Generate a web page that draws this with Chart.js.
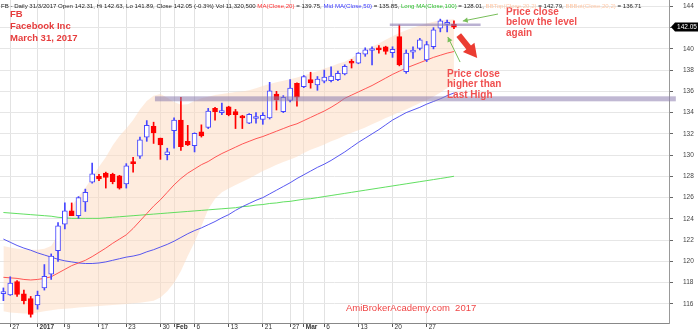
<!DOCTYPE html>
<html>
<head>
<meta charset="utf-8">
<script src="https://cdn.jsdelivr.net/npm/chart.js@4.4.1/dist/chart.umd.min.js"></script>
<style>
  html, body { margin: 0; padding: 0; background: #fff; }
  #wrap { width: 700px; height: 332px; position: relative; }
</style>
</head>
<body>
<div id="wrap"><canvas id="fbChart"></canvas></div>
<script>
// FB daily bars, 23 Dec 2016 .. 31 Mar 2017
const dates = [
  "2016-12-23","2016-12-27","2016-12-28","2016-12-29","2016-12-30",
  "2017-01-03","2017-01-04","2017-01-05","2017-01-06","2017-01-09","2017-01-10","2017-01-11","2017-01-12","2017-01-13",
  "2017-01-17","2017-01-18","2017-01-19","2017-01-20","2017-01-23","2017-01-24","2017-01-25","2017-01-26","2017-01-27",
  "2017-01-30","2017-01-31","2017-02-01","2017-02-02","2017-02-03","2017-02-06","2017-02-07","2017-02-08","2017-02-09",
  "2017-02-10","2017-02-13","2017-02-14","2017-02-15","2017-02-16","2017-02-17","2017-02-21","2017-02-22","2017-02-23",
  "2017-02-24","2017-02-27","2017-02-28","2017-03-01","2017-03-02","2017-03-03","2017-03-06","2017-03-07","2017-03-08",
  "2017-03-09","2017-03-10","2017-03-13","2017-03-14","2017-03-15","2017-03-16","2017-03-17","2017-03-20","2017-03-21",
  "2017-03-22","2017-03-23","2017-03-24","2017-03-27","2017-03-28","2017-03-29","2017-03-30","2017-03-31"
];

const opens = [
  116.95,116.85,118.1,116.95,116.5,
  115.9,117.5,118.8,121.0,123.5,124.75,124.3,125.6,127.45,
  128.0,128.3,128.2,128.05,127.3,129.4,129.9,131.7,132.7,
  131.6,130.05,132.3,133.3,131.3,130.9,132.2,132.6,134.4,
  134.0,134.55,134.1,133.7,133.0,133.45,133.35,133.5,135.75,
  134.1,135.15,136.75,136.45,137.1,136.6,136.95,137.0,137.1,
  137.65,138.8,138.65,139.5,139.85,140.1,140.2,139.65,141.15,
  137.85,139.7,140.05,138.95,140.2,141.95,142.3,142.31
];
const highs = [
  117.5,118.55,118.2,117.3,116.7,
  117.2,119.7,120.7,123.65,125.5,125.5,126.1,126.8,129.25,
  128.2,128.4,128.3,128.1,129.2,129.8,131.7,133.25,133.1,
  131.6,130.65,133.5,135.45,132.8,132.1,132.85,134.4,134.5,
  134.9,134.6,134.3,133.75,133.9,134.0,134.0,136.85,136.0,
  135.6,137.1,136.8,137.5,137.8,137.4,138.0,138.3,137.9,
  138.5,139.0,139.65,140.1,140.2,140.3,140.25,140.2,142.25,
  139.9,140.2,141.0,140.7,142.0,142.8,142.7,142.63
];
const lows = [
  116.3,116.8,116.7,116.0,114.75,
  115.5,117.3,118.3,120.0,123.05,124.3,124.05,124.7,127.35,
  127.6,126.9,127.3,126.8,126.9,128.4,129.7,131.3,131.1,
  129.6,129.55,130.65,130.45,130.9,130.3,131.7,132.5,133.3,
  133.8,133.7,132.5,132.5,132.95,133.0,132.9,133.4,134.25,
  134.0,135.0,134.6,136.35,136.3,136.1,136.8,136.9,137.0,
  137.55,138.2,138.6,139.3,138.5,139.6,139.5,139.2,138.4,
  137.7,139.1,139.9,138.8,140.0,141.6,141.6,141.89
];
const closes = [
  117.15,117.95,116.9,116.3,115.0,
  116.8,118.6,120.5,123.35,124.75,124.3,126.0,126.5,128.25,
  127.75,127.9,127.5,126.9,129.0,129.2,131.45,132.8,132.1,
  130.95,130.3,133.3,130.8,130.95,132.05,131.8,134.15,134.1,
  134.15,133.8,133.8,133.5,133.85,133.55,133.75,136.05,135.2,
  135.45,136.3,135.45,137.4,136.8,137.15,137.35,137.45,137.7,
  138.35,138.65,139.6,139.9,139.95,139.9,139.75,139.95,138.5,
  139.6,139.8,140.85,140.4,141.8,142.65,142.4,142.05
];

const ma20 = [
  118.5,118.45,118.4,118.3,118.25,
  118.3,118.4,118.55,118.9,119.25,119.6,119.85,120.1,120.45,
  120.85,121.25,121.7,122.1,122.5,123.1,123.8,124.5,125.2,
  125.8,126.5,127.2,127.8,128.3,128.7,129.1,129.4,129.8,
  130.15,130.45,130.75,131.05,131.3,131.55,131.75,132.0,132.25,
  132.5,132.75,132.95,133.25,133.55,133.85,134.15,134.5,134.9,
  135.35,135.65,135.95,136.25,136.55,136.9,137.25,137.6,137.9,
  138.2,138.45,138.7,138.95,139.2,139.4,139.6,139.75
];
const ma50 = [
  122.1,121.8,121.5,121.25,121.05,
  120.8,120.6,120.4,120.2,120.05,119.95,119.85,119.8,119.8,
  119.85,119.95,120.1,120.25,120.4,120.5,120.65,120.9,121.1,
  121.35,121.6,121.9,122.25,122.6,122.9,123.15,123.45,123.75,
  124.1,124.4,124.8,125.15,125.45,125.75,126.0,126.35,126.7,
  127.05,127.4,127.8,128.15,128.5,128.85,129.15,129.5,129.9,
  130.3,130.75,131.2,131.6,132.0,132.4,132.85,133.3,133.65,
  134.0,134.25,134.5,134.8,135.05,135.3,135.6,135.85
];
const ma100 = [
  124.6,124.55,124.5,124.45,124.4,
  124.35,124.3,124.25,124.15,124.1,124.05,124.05,124.05,124.05,
  124.05,124.1,124.15,124.2,124.25,124.3,124.35,124.4,124.45,
  124.5,124.55,124.6,124.65,124.7,124.75,124.8,124.85,124.9,
  124.95,125.0,125.05,125.15,125.2,125.3,125.35,125.45,125.5,
  125.6,125.65,125.75,125.85,125.9,126.0,126.1,126.2,126.3,
  126.4,126.5,126.6,126.7,126.8,126.9,127.0,127.1,127.2,
  127.3,127.4,127.5,127.6,127.7,127.8,127.9,128.01
];
const bbTop = [
  121.45,121.3,121.2,121.15,121.1,
  121.1,121.2,121.45,122.5,124.1,125.2,126.1,126.9,127.9,
  128.9,129.8,130.9,131.8,132.5,133.3,134.3,135.1,135.6,
  135.75,135.4,135.0,134.75,134.8,135.1,135.35,135.5,135.65,
  135.75,135.85,135.95,136.0,136.1,136.3,136.5,136.7,136.85,
  137.0,137.15,137.3,137.5,137.7,137.9,138.15,138.35,138.6,
  138.8,139.15,139.55,139.9,140.2,140.5,140.85,141.2,141.5,
  141.75,142.0,142.2,142.4,142.55,142.7,142.75,142.79
];
const bbBot = [
  115.3,115.2,115.15,115.1,115.1,
  115.2,115.3,115.4,115.5,115.55,115.6,115.65,115.7,115.75,
  115.8,115.85,115.9,115.95,116.0,116.05,116.1,116.2,116.3,
  116.6,117.2,118.0,119.1,120.5,121.8,123.3,124.9,125.9,
  126.5,126.85,127.2,127.5,127.8,128.15,128.5,128.8,129.1,
  129.35,129.6,129.85,130.2,130.5,130.75,131.0,131.3,131.55,
  131.85,132.1,132.35,132.6,132.9,133.2,133.5,133.75,134.05,
  134.3,134.6,134.9,135.2,135.5,135.9,136.3,136.71
];

// axis labels
const tickDates = ["2016-12-27","2017-01-03","2017-01-09","2017-01-17","2017-01-23","2017-01-30","2017-02-01",
  "2017-02-06","2017-02-13","2017-02-21","2017-02-27","2017-03-01","2017-03-06","2017-03-13","2017-03-20","2017-03-27"];
const tickTexts = ["27","2017","9","17","23","30","Feb","6","13","21","27","Mar","6","13","20","27"];
const priceTicks = [116,118,120,122,124,126,128,130,132,134,136,138,140,142,144];

// empty slots to the right of the last bar
const blankSlots = 31;
const labels = dates.concat(Array(blankSlots).fill(""));

const UP = "rgb(70,70,255)";
const DOWN = "rgb(255,0,0)";
const isUp = closes.map((c, i) => c >= opens[i]);
const FONT = "'Liberation Sans', Arial, sans-serif";

// hand drawn levels and arrows, in bar index / price units
const levelLines = [
  { price: 135.3, from: 22.2, to: 98.5, width: 5, color: "rgba(140,125,175,0.55)" },
  { price: 142.27, from: 56.6, to: 69.9, width: 2.5, color: "rgba(140,125,180,0.6)" }
];
const noteArrows = [
  { from: [72.45, 143.28], to: [67.3, 142.62], color: "rgb(120,190,90)", width: 1, head: 4 },
  { from: [66.9, 138.76], to: [65.1, 141.12], color: "rgb(120,190,90)", width: 1, head: 4 },
  { from: [66.7, 141.3], to: [69.4, 139.15], color: "rgb(235,60,50)", width: 6, head: 11 }
];

const headerParts = [
  ["FB - Daily 31/3/2017 Open 142.31, Hi 142.63, Lo 141.89, Close 142.05 (-0.3%) Vol 11,320,500 ", "#222"],
  ["MA(Close,20)", "#ff3030"], [" = 139.75, ", "#222"],
  ["Mid MA(Close,50)", "#3a3aff"], [" = 135.85, ", "#222"],
  ["Long MA(Close,100)", "#30c030"], [" = 128.01, ", "#222"],
  ["BBTop(Close,20,2)", "#ffc9a8"], [" = 142.79, ", "#222"],
  ["BBBot(Close,20,2)", "#ffc9a8"], [" = 136.71", "#222"]
];

const overlay = {
  id: "overlay",
  afterDatasetsDraw(chart) {
    const { ctx, scales: { x, y } } = chart;
    const px = i => x.getPixelForValue(0) + i * (x.getPixelForValue(1) - x.getPixelForValue(0));
    ctx.save();

    levelLines.forEach(l => {
      ctx.fillStyle = l.color;
      const yy = y.getPixelForValue(l.price);
      ctx.fillRect(px(l.from), yy - l.width / 2, px(l.to) - px(l.from), l.width);
    });

    noteArrows.forEach(a => {
      const x1 = px(a.from[0]), y1 = y.getPixelForValue(a.from[1]);
      const x2 = px(a.to[0]), y2 = y.getPixelForValue(a.to[1]);
      const ang = Math.atan2(y2 - y1, x2 - x1);
      const shaftEnd = a.width > 2 ? a.head * 0.8 : 0;
      ctx.strokeStyle = a.color;
      ctx.fillStyle = a.color;
      ctx.lineWidth = a.width;
      ctx.beginPath();
      ctx.moveTo(x1, y1);
      ctx.lineTo(x2 - Math.cos(ang) * shaftEnd, y2 - Math.sin(ang) * shaftEnd);
      ctx.stroke();
      ctx.beginPath();
      ctx.moveTo(x2, y2);
      ctx.lineTo(x2 - Math.cos(ang - 0.5) * a.head * 1.4, y2 - Math.sin(ang - 0.5) * a.head * 1.4);
      ctx.lineTo(x2 - Math.cos(ang + 0.5) * a.head * 1.4, y2 - Math.sin(ang + 0.5) * a.head * 1.4);
      ctx.closePath();
      ctx.fill();
    });

    // notes
    ctx.fillStyle = "rgb(240,80,80)";
    ctx.font = "bold 10px " + FONT;
    ctx.textBaseline = "alphabetic";
    ["Price close", "below the level", "again"].forEach((t, k) => ctx.fillText(t, 506, 15 + k * 10.3));
    ["Price close", "higher than", "Last High"].forEach((t, k) => ctx.fillText(t, 447, 77 + k * 10.3));

    // title block
    ctx.fillStyle = "rgb(230,60,60)";
    ctx.font = "bold 9.5px " + FONT;
    ["FB", "Facebook Inc", "March 31, 2017"].forEach((t, k) => ctx.fillText(t, 10, 17 + k * 12));

    // watermark
    ctx.font = "9.5px " + FONT;
    ctx.fillStyle = "rgb(240,70,70)";
    ctx.fillText("AmiBrokerAcademy.com  2017", 346, 311);

    // header
    ctx.font = "6px " + FONT;
    let total = 0;
    headerParts.forEach(p => { total += ctx.measureText(p[0]).width; });
    const size = 6 * 641 / total;
    ctx.font = size + "px " + FONT;
    let hx = 1;
    headerParts.forEach(p => {
      ctx.fillStyle = p[1];
      ctx.fillText(p[0], hx, 8);
      hx += ctx.measureText(p[0]).width;
    });

    // last close tag on the price axis
    const last = closes[closes.length - 1];
    const ty = y.getPixelForValue(last);
    const ax = y.left + 2;
    ctx.fillStyle = "#000";
    ctx.beginPath();
    ctx.moveTo(ax, ty);
    ctx.lineTo(ax + 4, ty - 4.5);
    ctx.lineTo(ax + 27, ty - 4.5);
    ctx.lineTo(ax + 27, ty + 4.5);
    ctx.lineTo(ax + 4, ty + 4.5);
    ctx.closePath();
    ctx.fill();
    ctx.fillStyle = "#fff";
    ctx.font = "6.5px " + FONT;
    ctx.textAlign = "center";
    ctx.textBaseline = "middle";
    ctx.fillText(last.toFixed(2), ax + 16, ty + 0.5);
    ctx.restore();
  }
};

const lineSet = (label, data, color, order) => ({
  type: "line", label, data, borderColor: color, borderWidth: 1,
  pointRadius: 0, tension: 0, fill: false, order
});

new Chart(document.getElementById("fbChart"), {
  type: "bar",
  data: {
    labels: labels,
    datasets: [
      {
        type: "line", label: "BBTop", data: bbTop, borderWidth: 0, borderColor: "rgba(0,0,0,0)",
        pointRadius: 0, fill: "+1", backgroundColor: "rgba(253,217,189,0.5)", order: 10
      },
      {
        type: "line", label: "BBBot", data: bbBot, borderWidth: 0, borderColor: "rgba(0,0,0,0)",
        pointRadius: 0, fill: false, order: 9
      },
      lineSet("MA20", ma20, "rgba(255,70,70,0.9)", 5),
      lineSet("MA50", ma50, "rgba(70,70,240,0.9)", 6),
      lineSet("MA100", ma100, "rgba(80,220,80,0.9)", 7),
      {
        label: "wick", data: lows.map((l, i) => [l, highs[i]]),
        backgroundColor: isUp.map(u => u ? UP : DOWN),
        barThickness: 1, grouped: false, order: 2
      },
      {
        label: "body", data: opens.map((o, i) => [o, closes[i]]),
        backgroundColor: isUp.map(u => u ? "#fff" : DOWN),
        borderColor: isUp.map(u => u ? UP : DOWN),
        borderWidth: 1, borderSkipped: false, minBarLength: 2,
        barThickness: 5, grouped: false, order: 1
      }
    ]
  },
  options: {
    responsive: true,
    maintainAspectRatio: false,
    animation: false,
    devicePixelRatio: 1,
    layout: { padding: 0 },
    plugins: { legend: { display: false }, tooltip: { enabled: false } },
    scales: {
      x: {
        offset: true,
        grid: { offset: false, color: "#e2e2e2", tickColor: "#555", tickLength: 4 },
        border: { color: "#888" },
        afterBuildTicks: s => { s.ticks = s.ticks.filter(t => tickDates.includes(labels[t.value])); },
        afterFit: s => { s.height = 9; s.paddingLeft = 0; s.paddingRight = 0; },
        ticks: {
          autoSkip: false, maxRotation: 0, align: "start", padding: -4, labelOffset: 2,
          color: "#333",
          font: c => ({ family: FONT, size: 6.5,
            weight: c.tick && ["2017", "Feb", "Mar"].includes(c.tick.label) ? "bold" : "normal" }),
          callback: v => {
            const k = tickDates.indexOf(labels[v]);
            return k < 0 ? "" : tickTexts[k];
          }
        }
      },
      y: {
        position: "right",
        min: 114.2,
        max: 144.6,
        afterBuildTicks: s => { s.ticks = priceTicks.map(v => ({ value: v })); },
        afterFit: s => { s.width = 31; s.paddingTop = 0; s.paddingBottom = 0; },
        grid: { color: "#e6e6e6", tickColor: "#666", tickLength: 4 },
        border: { color: "#999" },
        ticks: { padding: 10, color: "#444", font: { family: FONT, size: 6.5 } }
      }
    }
  },
  plugins: [overlay]
});
</script>
</body>
</html>
